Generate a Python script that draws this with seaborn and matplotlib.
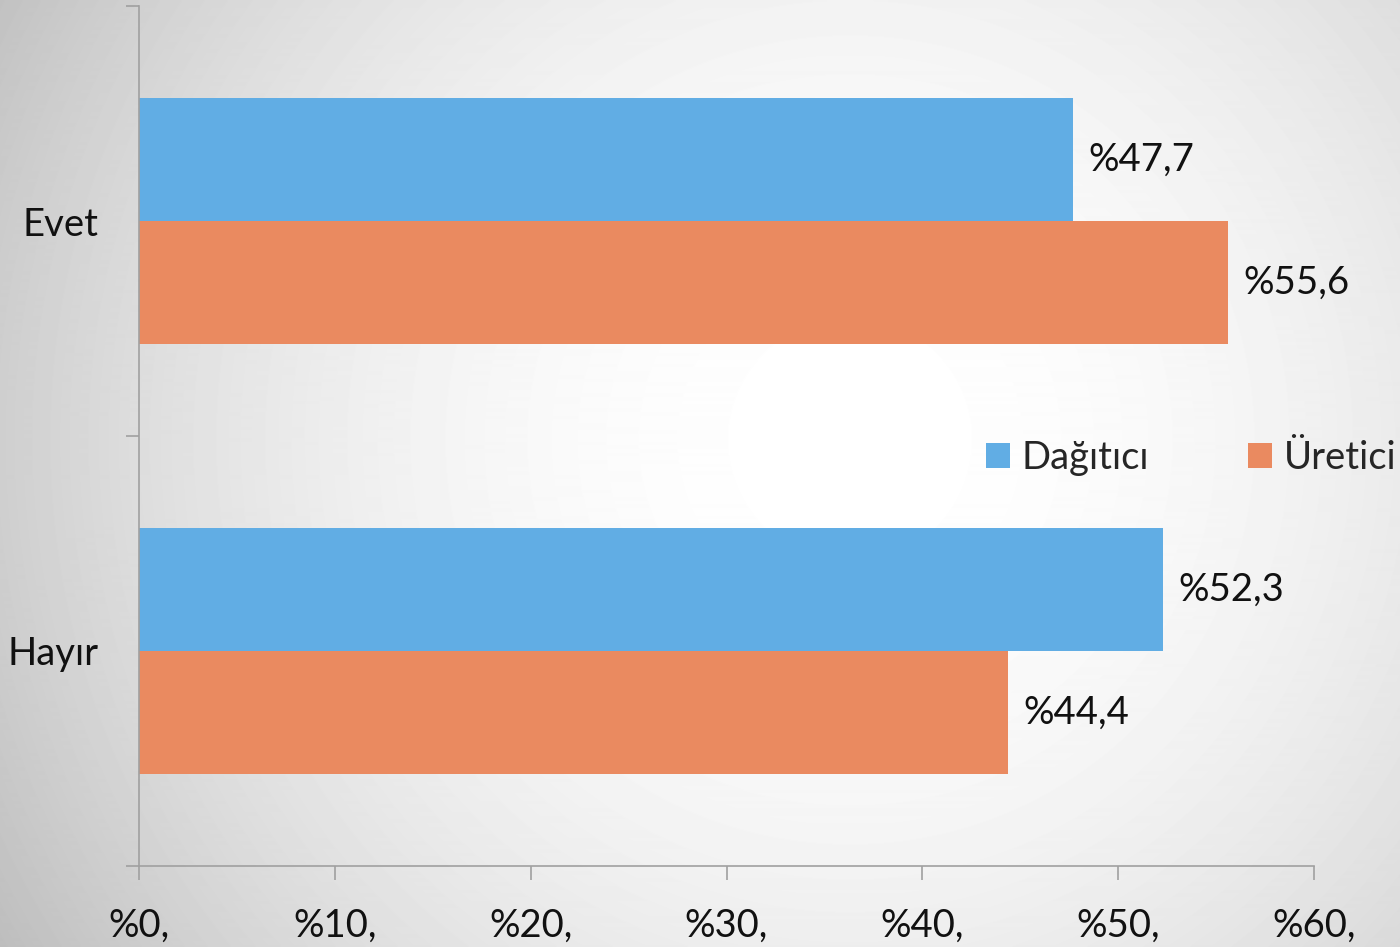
import numpy as np
import pandas as pd
import seaborn as sns
import matplotlib.pyplot as plt
from matplotlib.ticker import FixedLocator

categories = ['Evet', 'Hayır']
groups = ['Dağıtıcı', 'Üretici']
dagitici = [47.7, 52.3]
uretici = [55.6, 44.4]
value_labels = {'Dağıtıcı': ['%47,7', '%52,3'], 'Üretici': ['%55,6', '%44,4']}
x_ticks = [0, 10, 20, 30, 40, 50, 60]
x_tick_labels = ['%0,', '%10,', '%20,', '%30,', '%40,', '%50,', '%60,']
colors = ['#61ADE4', '#EA8A60']

df = pd.DataFrame({
    'cevap': categories * 2,
    'grup': [groups[0]] * 2 + [groups[1]] * 2,
    'oran': dagitici + uretici,
})

sns.set_style('white')
plt.rcParams['font.family'] = ['Lato', 'DejaVu Sans']
fs = 27.5

fig = plt.figure(figsize=(14, 9.47), dpi=100)

# radial gray background, white near the middle
bg = fig.add_axes([0, 0, 1, 1], zorder=0)
w, h = 1400, 947
yy, xx = np.mgrid[0:h, 0:w]
d2 = (xx - 850) ** 2 + (yy - 440) ** 2
shade = np.clip(255 - 6.7e-5 * d2, 190, 255) / 255
bg.imshow(shade, cmap='gray', vmin=0, vmax=1, aspect='auto', extent=(0, 1, 0, 1))
bg.axis('off')

ax = fig.add_axes([139 / 1400, 1 - 866 / 947, (1314 - 139) / 1400, 860 / 947], zorder=1)
ax.set_facecolor('none')

sns.barplot(data=df, y='cevap', x='oran', hue='grup', orient='h', width=0.572,
            palette=colors, linewidth=0, saturation=1, ax=ax)

for cont, g in zip(ax.containers, groups):
    ax.bar_label(cont, labels=value_labels[g], padding=11, fontsize=fs, color='#111111')

ax.set_xlim(0, 60)
ax.set_ylim(1.5, -0.5)
ax.set_xticks(x_ticks)
ax.set_xticklabels(x_tick_labels)
ax.set_xlabel('')
ax.set_ylabel('')

spine_color = '#A0A0A0'
for s in ['top', 'right']:
    ax.spines[s].set_visible(False)
for s in ['left', 'bottom']:
    ax.spines[s].set_color(spine_color)
    ax.spines[s].set_linewidth(1.2)

ax.tick_params(axis='x', length=10, width=1.2, color=spine_color, pad=20,
               labelsize=fs, labelcolor='#111111', bottom=True)
ax.tick_params(axis='y', which='major', length=0, pad=29, labelsize=fs, labelcolor='#111111')
ax.yaxis.set_minor_locator(FixedLocator([-0.5, 0.5, 1.5]))
ax.tick_params(axis='y', which='minor', length=9.5, width=1.2, color=spine_color, left=True)

handles, labels = ax.get_legend_handles_labels()
ax.get_legend().remove()
fig.legend(handles, labels, loc='center left', bbox_to_anchor=(986 / 1400, 1 - 458 / 947),
           ncol=2, frameon=False, fontsize=fs, borderpad=0, borderaxespad=0,
           handlelength=0.63, handleheight=0.63, handletextpad=0.3, columnspacing=2.6)

fig.savefig('out.png', dpi=100)
